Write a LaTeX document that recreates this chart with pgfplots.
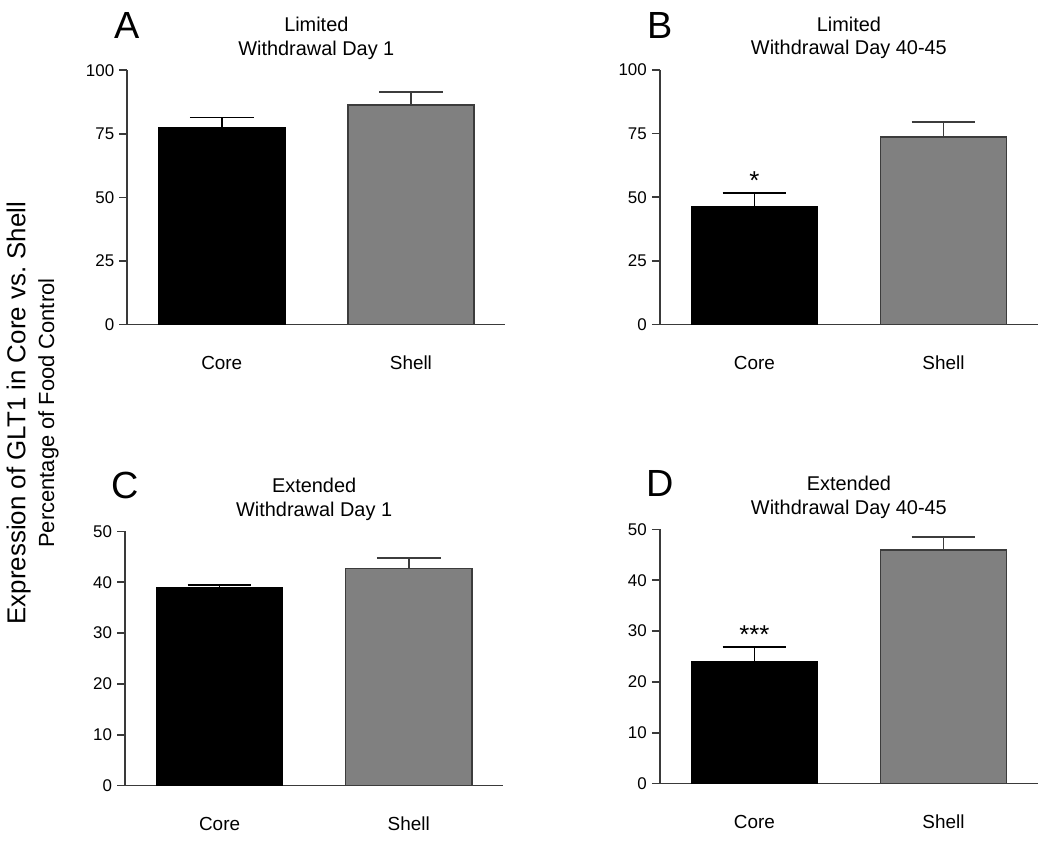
\documentclass[border=0pt]{standalone}
\usepackage{fontspec}
\setmainfont{Liberation Sans}
\usepackage{pgfplots}
\pgfplotsset{compat=1.18}

\definecolor{axgray}{HTML}{3A3A3A}
\definecolor{barg}{HTML}{808080}
\definecolor{bard}{HTML}{3C3C3C}

\pgfplotsset{
  panel/.style={
    scale only axis,
    width=190pt, height=127.7pt,
    anchor=south west,
    xmin=-0.5, xmax=1.5,
    ymin=0,
    axis x line*=bottom, axis y line*=left,
    axis line style={-, axgray, line width=0.8pt},
    xtick={0,1}, xticklabels={Core,Shell},
    x tick style={draw=none},
    y tick style={axgray, line width=0.8pt},
    tick align=outside, major tick length=4pt,
    xticklabel style={font=\fontsize{9.5}{11}\selectfont, yshift=-8pt, text height=7pt, text depth=1pt},
    yticklabel style={font=\fontsize{8.5}{10}\selectfont, xshift=1pt},
    /pgf/number format/assume math mode=true,
    title style={font=\fontsize{10}{12}\selectfont, align=center, yshift=-4pt},
    clip=false,
  },
  corebar/.style={ybar, bar width=0.667, fill=black, draw=black, line width=0.7pt,
    error bars/.cd, y dir=plus, y explicit,
    error bar style={black, line width=0.8pt},
    error mark options={black, line width=0.8pt, mark size=16pt, rotate=90}},
  shellbar/.style={ybar, bar width=0.667, fill=barg, draw=bard, line width=0.8pt,
    error bars/.cd, y dir=plus, y explicit,
    error bar style={bard, line width=0.8pt},
    error mark options={bard, line width=0.8pt, mark size=16pt, rotate=90}},
}

\begin{document}
\begin{tikzpicture}
\path (0,0) rectangle (525pt,422.5pt);

% A
\begin{axis}[panel, at={(61.5pt,259.5pt)}, ymax=100, ytick={0,25,50,75,100},
  title={Limited\\Withdrawal Day 1}]
  \addplot[corebar] coordinates {(0,77.5) +- (0,4.0)};
  \addplot[shellbar] coordinates {(1,86.3) +- (0,5.2)};
  \node[font=\fontsize{19}{19}\selectfont] at (rel axis cs:0,1) [yshift=22.5pt] {A};
\end{axis}

% B
\begin{axis}[panel, at={(329pt,259.6pt)}, ymax=100, ytick={0,25,50,75,100},
  title={Limited\\Withdrawal Day 40-45}]
  \addplot[corebar] coordinates {(0,46.2) +- (0,5.5)};
  \addplot[shellbar] coordinates {(1,73.6) +- (0,6.0)};
  \node[font=\fontsize{13}{13}\selectfont] at (axis cs:0,56.5) {*};
  \node[font=\fontsize{19}{19}\selectfont] at (rel axis cs:0,1) [yshift=22.5pt] {B};
\end{axis}

% C
\begin{axis}[panel, at={(60.4pt,27.9pt)}, ymax=50, ytick={0,10,20,30,40,50},
  title={Extended\\Withdrawal Day 1}]
  \addplot[corebar] coordinates {(0,39.0) +- (0,0.5)};
  \addplot[shellbar] coordinates {(1,42.7) +- (0,2.1)};
  \node[font=\fontsize{19}{19}\selectfont] at (rel axis cs:0,1) [yshift=23pt] {C};
\end{axis}

% D
\begin{axis}[panel, at={(329pt,28.9pt)}, ymax=50, ytick={0,10,20,30,40,50},
  title={Extended\\Withdrawal Day 40-45}]
  \addplot[corebar] coordinates {(0,23.9) +- (0,3.0)};
  \addplot[shellbar] coordinates {(1,45.9) +- (0,2.55)};
  \node[font=\fontsize{13}{13}\selectfont] at (axis cs:0,29.3) {***};
  \node[font=\fontsize{19}{19}\selectfont] at (rel axis cs:0,1) [yshift=23pt] {D};
\end{axis}

% shared y label
\node[rotate=90, font=\fontsize{13}{13}\selectfont] at (7pt,215pt) {Expression of GLT1 in Core vs.\ Shell};
\node[rotate=90, font=\fontsize{11}{11}\selectfont] at (22pt,215pt) {Percentage of Food Control};
\end{tikzpicture}
\end{document}
